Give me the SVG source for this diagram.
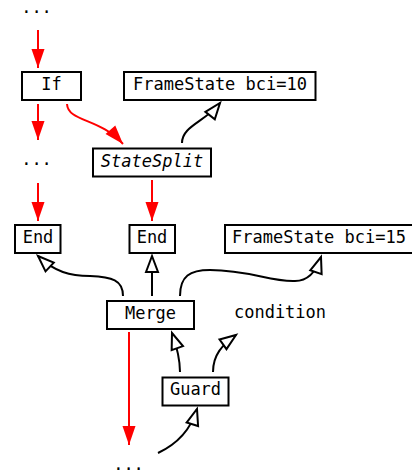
<svg xmlns="http://www.w3.org/2000/svg" width="412" height="474" viewBox="0 0 412 474">
<defs>
<style>
.box{fill:#fff;stroke:#000;stroke-width:2}
.t{font-family:"DejaVu Sans Mono",monospace;font-size:17px;fill:#000;text-anchor:middle}
.red{fill:none;stroke:#f00;stroke-width:2;marker-end:url(#rh)}
.blk{fill:none;stroke:#000;stroke-width:2;marker-end:url(#oh)}
</style>
<marker id="rh" markerUnits="userSpaceOnUse" markerWidth="20" markerHeight="14" refX="19" refY="6.5" orient="auto" overflow="visible">
<path d="M0,0 L19,6.5 L0,13 z" fill="#f00"/>
</marker>
<marker id="oh" markerUnits="userSpaceOnUse" markerWidth="18" markerHeight="14" refX="16" refY="6" orient="auto" overflow="visible">
<path d="M0,0 L16,6 L0,12 z" fill="#fff" stroke="#000" stroke-width="2" stroke-linejoin="miter"/>
</marker>
</defs>
<g id="connectors">
<path class="red" d="M38,30 L38,68"/>
<path class="red" d="M38,104 L38,140"/>
<path class="red" d="M38,183 L38,221"/>
<path class="red" d="M67,104 C68,122 100,118 123,144"/>
<path class="red" d="M152,180 L152,221"/>
<path class="red" d="M129,332 L129,445"/>
<path class="blk" d="M182,143 C182,126 205,122 220,103"/>
<path class="blk" d="M123,296 C123,280 112,277 90,276 C70,276 55,272 38,256"/>
<path class="blk" d="M152,296 L152,256"/>
<path class="blk" d="M180,296 C180,276 190,270 210,270 C250,270 270,282 295,281 C305,281 315,275 321,257"/>
<path class="blk" d="M180,372 C180,360 178,350 172,333"/>
<path class="blk" d="M213,372 C213,355 222,345 236,335"/>
<path class="blk" d="M158,453 C175,445 190,432 197,409"/>
</g>
<g id="dots-top"><text class="t" x="36.5" y="13">...</text></g>
<g id="If"><rect class="box" x="22" y="72" width="59" height="28"/><text class="t" x="51.5" y="90">If</text></g>
<g id="FrameState10"><rect class="box" x="124" y="72" width="191.5" height="28"/><text class="t" x="220" y="90">FrameState bci=10</text></g>
<g id="dots-mid"><text class="t" x="36.5" y="165">...</text></g>
<g id="StateSplit"><rect class="box" x="93" y="148.5" width="118" height="28"/><text class="t" x="152" y="166.5" font-style="italic">StateSplit</text></g>
<g id="End1"><rect class="box" x="15" y="225" width="45.5" height="28"/><text class="t" x="38" y="243">End</text></g>
<g id="End2"><rect class="box" x="129.5" y="225" width="45.5" height="28"/><text class="t" x="152" y="243">End</text></g>
<g id="FrameState15"><rect class="box" x="225" y="225" width="195" height="28"/><text class="t" x="319" y="243">FrameState bci=15</text></g>
<g id="Merge"><rect class="box" x="107" y="301" width="87" height="28"/><text class="t" x="150.5" y="319">Merge</text></g>
<g id="condition"><text class="t" x="280" y="318">condition</text></g>
<g id="Guard"><rect class="box" x="162.5" y="377.5" width="66" height="28"/><text class="t" x="195.5" y="395">Guard</text></g>
<g id="dots-bottom"><text class="t" x="128.5" y="470">...</text></g>
</svg>
